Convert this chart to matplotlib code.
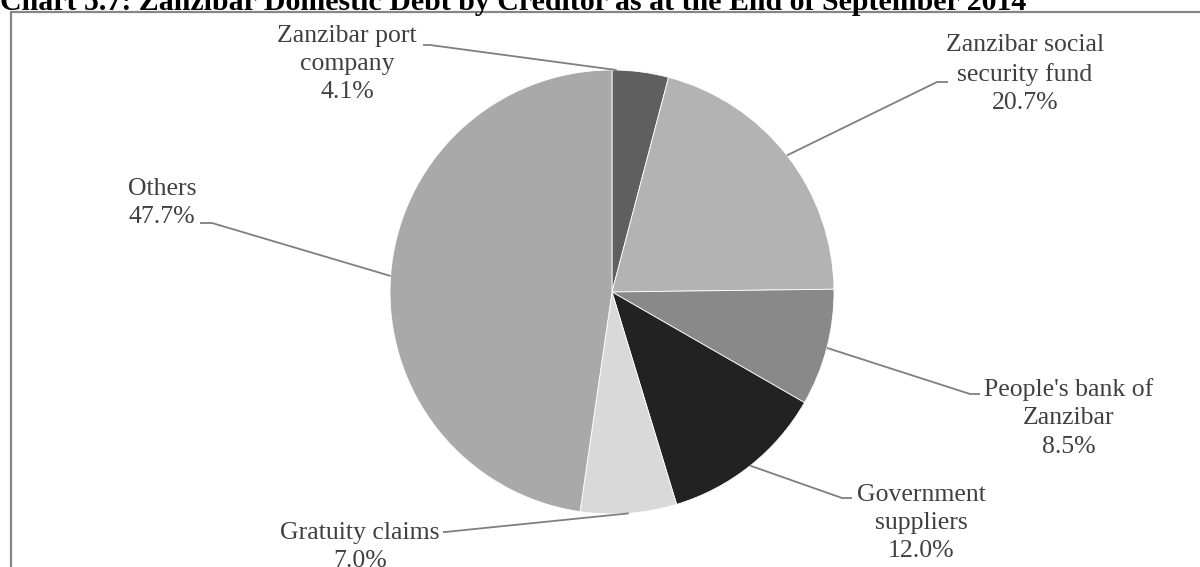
import matplotlib.pyplot as plt
from matplotlib.patches import Rectangle
import numpy as np

labels = ["Zanzibar port\ncompany", "Zanzibar social\nsecurity fund", "People's bank of\nZanzibar",
          "Government\nsuppliers", "Gratuity claims", "Others"]
shares = [4.1, 20.7, 8.5, 12.0, 7.0, 47.7]
colors = ["#5f5f5f", "#b3b3b3", "#898989", "#222222", "#d9d9d9", "#a9a9a9"]
title = "Chart 5.7: Zanzibar Domestic Debt by Creditor as at the End of September 2014"

# label layout in image px (from top-left)
text_pos = [(347, 64), (1025, 74), (1069, 418), (921, 523), (360, 547), (162, 203)]
text_end = [(423, 45), (948, 82), (980, 394), (852, 498), (443, 532), (200, 223)]
elbow_pos = [(430, 45), (937, 82), (970, 394), (842, 498), (445, 532), (212, 223)]
anchor_frac = [0.08, 0.5, 0.5, 0.5, 0.5, 0.5]

W, H = 1200, 567
fig = plt.figure(figsize=(12, 5.67), dpi=100)
ax = fig.add_axes([0, 0, 1, 1])

cx, cy, r = 612, H - 292, 222
wedges, _ = ax.pie(shares, colors=colors, startangle=90, counterclock=False,
                   center=(cx, cy), radius=r, frame=True,
                   wedgeprops=dict(linewidth=0.6, edgecolor="white"))
ax.set_xlim(0, W)
ax.set_ylim(0, H)
ax.set_aspect("equal")
ax.axis("off")

serif = ["Liberation Serif", "DejaVu Serif"]
for w, lab, val, tp, ep, te, fr in zip(wedges, labels, shares, text_pos, elbow_pos, text_end, anchor_frac):
    # clockwise wedges: theta2 is the start edge
    ang = np.deg2rad(w.theta2 - fr * (w.theta2 - w.theta1))
    px, py = cx + r * np.cos(ang), cy + r * np.sin(ang)
    ax.plot([te[0], ep[0], px], [H - te[1], H - ep[1], py], color="#7f7f7f", lw=1.3,
            solid_capstyle="butt")
    ax.text(tp[0], H - tp[1], f"{lab}\n{val:.1f}%", ha="center", va="center",
            fontsize=18.5, color="#404040", family=serif, linespacing=1.38)

ax.add_patch(Rectangle((11, -50), 1300, H - 12 + 50, fill=False, edgecolor="#868686",
                       lw=1.6, clip_on=False))
fig.text(0, 1 - 10 / H, title, ha="left", va="baseline", fontsize=21.5,
         fontweight="bold", family=serif, color="black")

fig.savefig("out.png", dpi=100)
